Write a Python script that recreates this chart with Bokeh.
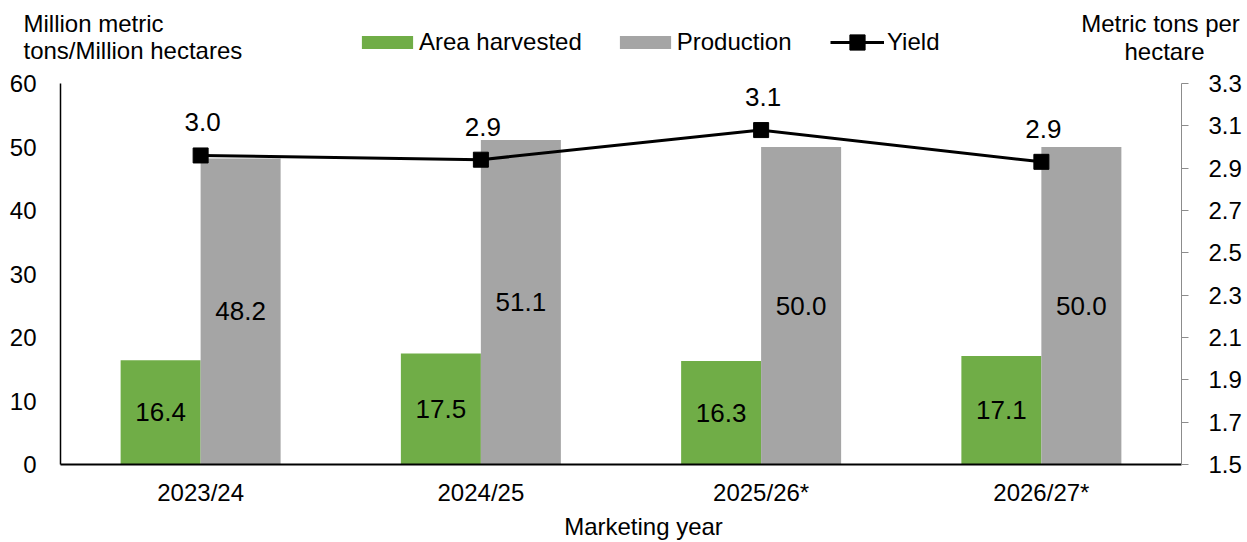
from bokeh.plotting import figure
from bokeh.layouts import column
from bokeh.models import (FactorRange, Range1d, LinearAxis, FixedTicker, NumeralTickFormatter,
                          ColumnDataSource, Legend, LegendItem, Label)
from bokeh.transform import dodge
from bokeh.embed import file_html
from bokeh.resources import INLINE
from bokeh.core.properties import value

# ---- data ----
years = ["2023/24", "2024/25", "2025/26*", "2026/27*"]
area_harvested = [16.4, 17.5, 16.3, 17.1]
production = [48.2, 51.1, 50.0, 50.0]
yield_values = [2.96, 2.94, 3.08, 2.93]
left_ticks = [0, 10, 20, 30, 40, 50, 60]
right_ticks = [1.5, 1.7, 1.9, 2.1, 2.3, 2.5, 2.7, 2.9, 3.1, 3.3]

FONT = "Liberation Sans"
GREEN = "#70AD47"
GRAY = "#A5A5A5"
W = 1247
TOP_H = 66
BOT_H = 34
MAIN_H = 542 - TOP_H - BOT_H

src = ColumnDataSource(dict(
    year=years,
    area=area_harvested,
    prod=production,
    yld=yield_values,
    area_mid=[v / 2 for v in area_harvested],
    prod_mid=[v / 2 for v in production],
    area_lbl=[f"{v:.1f}" for v in area_harvested],
    prod_lbl=[f"{v:.1f}" for v in production],
    yld_lbl=[f"{v:.1f}" for v in yield_values],
))

# ---------------- main chart ----------------
p = figure(x_range=FactorRange(*years, range_padding=0), y_range=Range1d(0, 60),
           width=W, height=MAIN_H, output_backend="svg", toolbar_location=None,
           min_border_left=60, min_border_right=66, min_border_top=17, min_border_bottom=44,
           outline_line_color=None, background_fill_color="white", border_fill_color="white")
p.xgrid.visible = False
p.ygrid.visible = False

ly = p.yaxis[0]
ly.ticker = FixedTicker(ticks=left_ticks)
ly.major_tick_line_color = None
ly.minor_tick_line_color = None
ly.axis_line_color = "black"
ly.axis_line_width = 1.5
ly.major_label_standoff = 18
ly.major_label_text_font = FONT
ly.major_label_text_font_size = "24px"
ly.major_label_text_color = "black"

bx = p.xaxis[0]
bx.major_tick_line_color = None
bx.axis_line_color = "black"
bx.axis_line_width = 2
bx.major_label_standoff = 8
bx.major_label_text_font = FONT
bx.major_label_text_font_size = "24px"
bx.major_label_text_color = "black"

p.extra_y_ranges = {"y2": Range1d(1.5, 3.3)}
ry = LinearAxis(y_range_name="y2", ticker=FixedTicker(ticks=right_ticks),
                formatter=NumeralTickFormatter(format="0.0"))
ry.axis_line_color = "#8C8C8C"
ry.axis_line_width = 1
ry.major_tick_line_color = "#8C8C8C"
ry.major_tick_out = 7
ry.major_tick_in = 0
ry.minor_tick_line_color = None
ry.major_label_standoff = 20
ry.major_label_text_font = FONT
ry.major_label_text_font_size = "24px"
ry.major_label_text_color = "black"
p.add_layout(ry, "right")

off = 0.1427
bw = 0.2855
p.vbar(x=dodge("year", -off, range=p.x_range), top="area", width=bw, source=src,
       fill_color=GREEN, line_color=None)
p.vbar(x=dodge("year", off, range=p.x_range), top="prod", width=bw, source=src,
       fill_color=GRAY, line_color=None)
p.line(x="year", y="yld", y_range_name="y2", source=src, line_color="black", line_width=3)
p.scatter(x="year", y="yld", y_range_name="y2", source=src, marker="square", size=15,
          fill_color="black", line_color="black")

lbl_kw = dict(text_align="center", text_baseline="middle", text_font=value(FONT),
              text_font_size="26px", text_color="black", source=src)
p.text(x=dodge("year", -off, range=p.x_range), y="area_mid", text="area_lbl", **lbl_kw)
p.text(x=dodge("year", off, range=p.x_range), y="prod_mid", text="prod_lbl", **lbl_kw)
p.text(x="year", y="yld", text="yld_lbl", y_range_name="y2", y_offset=-33, x_offset=2, **lbl_kw)


def strip(height):
    f = figure(width=W, height=height, x_range=Range1d(0, W), y_range=Range1d(0, height),
               x_axis_type=None, y_axis_type=None, output_backend="svg", toolbar_location=None,
               min_border=0, outline_line_color=None, background_fill_color="white",
               border_fill_color="white")
    f.frame_align = False
    f.xgrid.visible = False
    f.ygrid.visible = False
    return f


tkw = dict(x_units="screen", y_units="screen", text_font=FONT, text_font_size="24px",
           text_color="black", text_baseline="alphabetic")

# ---------------- header strip (axis titles + legend) ----------------
top = strip(TOP_H)
nan = [float("nan")]
# legend-only renderers: a single undefined point, so nothing is drawn in the strip
g_area = top.vbar(x=nan, top=nan, width=1, fill_color=GREEN, line_color=None)
g_prod = top.vbar(x=nan, top=nan, width=1, fill_color=GRAY, line_color=None)
g_line = top.line(x=nan, y=nan, line_color="black", line_width=3)
g_pts = top.scatter(x=nan, y=nan, marker="square", size=15, fill_color="black", line_color="black")

common = dict(orientation="horizontal", padding=0, margin=0, border_line_color=None,
              background_fill_alpha=0, label_text_font=FONT, label_text_font_size="24px",
              label_text_color="black", inactive_fill_alpha=0)
leg1 = Legend(items=[LegendItem(label="Area harvested", renderers=[g_area]),
                     LegendItem(label="Production", renderers=[g_prod])],
              location=(355, 10), glyph_width=64, glyph_height=16, label_standoff=0,
              spacing=31, **common)
leg2 = Legend(items=[LegendItem(label="Yield", renderers=[g_line, g_pts])],
              location=(830, 5), glyph_width=54, glyph_height=38, label_standoff=3,
              spacing=0, **common)
top.add_layout(leg1)
top.add_layout(leg2)

top.add_layout(Label(x=23, y=43, text="Million metric", text_align="left", **tkw))
top.add_layout(Label(x=23, y=16, text="tons/Million hectares", text_align="left", **tkw))
top.add_layout(Label(x=1160, y=43, text="Metric tons per", text_align="center", **tkw))
top.add_layout(Label(x=1164, y=15, text="hectare", text_align="center", **tkw))

# ---------------- footer strip (x axis title) ----------------
bot = strip(BOT_H)
bot.add_layout(Label(x=643, y=16, text="Marketing year", text_align="center", **tkw))

layout = column(top, p, bot, spacing=0)
open("out.html", "w").write(file_html(layout, INLINE))
